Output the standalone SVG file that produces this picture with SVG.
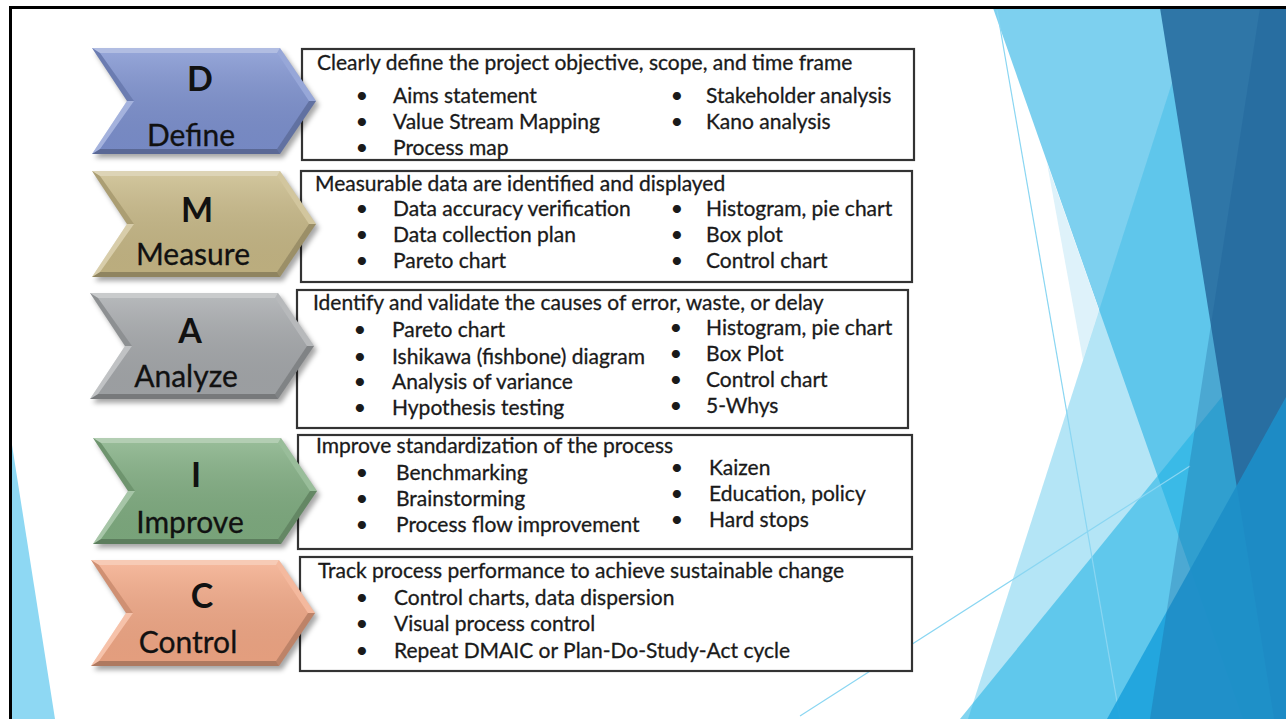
<svg xmlns="http://www.w3.org/2000/svg" xmlns:xlink="http://www.w3.org/1999/xlink" width="1286" height="719" viewBox="0 0 1286 719">
  <style>
    .box { fill: #ffffff; stroke: #333333; stroke-width: 2.2; }
    .t { font-family: Lato, "Open Sans", "Liberation Sans", sans-serif; font-size: 21px; fill: #1a1a1a; stroke: #1a1a1a; stroke-width: 0.3; }
    .b { font-family: Lato, "Open Sans", "Liberation Sans", sans-serif; font-size: 22px; fill: #1a1a1a; text-anchor: middle; }
    .letter { font-family: Lato, "Open Sans", "Liberation Sans", sans-serif; font-size: 34px; font-weight: 700; fill: #111111; text-anchor: middle; }
    .word { font-family: Lato, "Open Sans", "Liberation Sans", sans-serif; font-size: 30px; fill: #111111; stroke: #111111; stroke-width: 0.3; text-anchor: middle; }
    .thin { fill: none; stroke: #8ad6f2; stroke-width: 1.2; }
  </style>
  <defs>
    <filter id="soft" x="-10%" y="-10%" width="130%" height="140%">
      <feGaussianBlur stdDeviation="2.5"/>
    </filter>
    <linearGradient id="sheen" x1="0" y1="0" x2="0" y2="1">
      <stop offset="0" stop-color="#ffffff" stop-opacity="0.18"/>
      <stop offset="1" stop-color="#000000" stop-opacity="0.06"/>
    </linearGradient>
    <!-- bevelled chevron, fill comes from the <use> -->
    <g id="chev">
      <polygon points="3,4 191,4 227,57 191,110 3,110 38,57" fill="#000000" fill-opacity="0.35" filter="url(#soft)"/>
      <polygon points="0,0 188,0 224,53 188,106 0,106 35,53"/>
      <polygon points="8,5 185,5 217,53 185,101 8,101 42,53" fill="url(#sheen)"/>
      <polygon points="0,0 188,0 185,5 8,5" fill="#ffffff" fill-opacity="0.4"/>
      <polygon points="188,0 224,53 217,53 185,5" fill="#ffffff" fill-opacity="0.2"/>
      <polygon points="224,53 188,106 185,101 217,53" fill="#000000" fill-opacity="0.22"/>
      <polygon points="188,106 0,106 8,101 185,101" fill="#000000" fill-opacity="0.28"/>
      <polygon points="0,106 35,53 42,53 8,101" fill="#ffffff" fill-opacity="0.3"/>
      <polygon points="0,0 8,5 42,53 35,53" fill="#000000" fill-opacity="0.14"/>
    </g>
  </defs>

  <!-- slide background and facet decoration -->
  <rect x="0" y="0" width="1286" height="719" fill="#ffffff"/>
  <g id="facets">
    <polygon points="993,8 1286,8 1286,719 1243,719" fill="#7dd0ef"/>
    <polygon points="1047,163 1099,310 1083,360" fill="#def2fa"/>
    <polygon points="1196,8 1286,8 1286,719 968,719" fill="#29b4e6" fill-opacity="0.35"/>
    <polygon points="1286,318 1286,719 960,719" fill="#1cb0e4" fill-opacity="0.55"/>
    <line class="thin" x1="997" y1="10" x2="1120" y2="719"/>
    <line class="thin" x1="800" y1="716" x2="1190" y2="466"/>
    <polygon points="1160,8 1286,8 1286,719 1274,719" fill="#2f76a7"/>
    <polygon points="1286,397 1286,719 1107,719" fill="#1ea3dc" fill-opacity="0.92"/>
    <polygon points="1260,8 1286,8 1286,719 1150,719" fill="#1a5a94" fill-opacity="0.28"/>
    <polygon points="12,445 55,719 12,719" fill="#8ed8f3"/>
  </g>
  <!-- slide frame -->
  <line x1="10.5" y1="7.5" x2="1286" y2="7.5" stroke="#000000" stroke-width="3"/>
  <line x1="10.5" y1="6" x2="10.5" y2="719" stroke="#000000" stroke-width="3"/>

  <!-- D: Define -->
  <g id="define">
    <rect class="box" x="302" y="49" width="612" height="111"/>
    <use xlink:href="#chev" href="#chev" fill="#7d91cf" transform="translate(92,48)"/>
    <text class="letter" x="200" y="91">D</text>
    <text class="word" x="191" y="146">Define</text>
    <text class="t" x="317" y="70">Clearly define the project objective, scope, and time frame</text>
    <text class="b" x="362" y="103">•</text><text class="t" x="393" y="103">Aims statement</text>
    <text class="b" x="362" y="129">•</text><text class="t" x="393" y="129">Value Stream Mapping</text>
    <text class="b" x="362" y="155">•</text><text class="t" x="393" y="155">Process map</text>
    <text class="b" x="677" y="103">•</text><text class="t" x="706" y="103">Stakeholder analysis</text>
    <text class="b" x="677" y="129">•</text><text class="t" x="706" y="129">Kano analysis</text>
  </g>

  <!-- M: Measure -->
  <g id="measure">
    <rect class="box" x="301" y="171" width="611" height="111"/>
    <use xlink:href="#chev" href="#chev" fill="#c7b886" transform="translate(92,171)"/>
    <text class="letter" x="197" y="222">M</text>
    <text class="word" x="193" y="265">Measure</text>
    <text class="t" x="315" y="191">Measurable data are identified and displayed</text>
    <text class="b" x="362" y="216">•</text><text class="t" x="393" y="216">Data accuracy verification</text>
    <text class="b" x="362" y="242">•</text><text class="t" x="393" y="242">Data collection plan</text>
    <text class="b" x="362" y="268">•</text><text class="t" x="393" y="268">Pareto chart</text>
    <text class="b" x="677" y="216">•</text><text class="t" x="706" y="216">Histogram, pie chart</text>
    <text class="b" x="677" y="242">•</text><text class="t" x="706" y="242">Box plot</text>
    <text class="b" x="677" y="268">•</text><text class="t" x="706" y="268">Control chart</text>
  </g>

  <!-- A: Analyze -->
  <g id="analyze">
    <rect class="box" x="297" y="290" width="611" height="138"/>
    <use xlink:href="#chev" href="#chev" fill="#a5a8ab" transform="translate(90,293)"/>
    <text class="letter" x="190" y="343">A</text>
    <text class="word" x="186" y="387">Analyze</text>
    <text class="t" x="313" y="310">Identify and validate the causes of error, waste, or delay</text>
    <text class="b" x="360" y="337">•</text><text class="t" x="392" y="337">Pareto chart</text>
    <text class="b" x="360" y="364">•</text><text class="t" x="392" y="364">Ishikawa (fishbone) diagram</text>
    <text class="b" x="360" y="389">•</text><text class="t" x="392" y="389">Analysis of variance</text>
    <text class="b" x="360" y="415">•</text><text class="t" x="392" y="415">Hypothesis testing</text>
    <text class="b" x="676" y="335">•</text><text class="t" x="706" y="335">Histogram, pie chart</text>
    <text class="b" x="676" y="361">•</text><text class="t" x="706" y="361">Box Plot</text>
    <text class="b" x="676" y="387">•</text><text class="t" x="706" y="387">Control chart</text>
    <text class="b" x="676" y="413">•</text><text class="t" x="706" y="413">5-Whys</text>
  </g>

  <!-- I: Improve -->
  <g id="improve">
    <rect class="box" x="298" y="435" width="614" height="114"/>
    <use xlink:href="#chev" href="#chev" fill="#80ad81" transform="translate(93,438)"/>
    <text class="letter" x="196" y="487">I</text>
    <text class="word" x="190" y="533">Improve</text>
    <text class="t" x="316" y="453">Improve standardization of the process</text>
    <text class="b" x="362" y="480">•</text><text class="t" x="396" y="480">Benchmarking</text>
    <text class="b" x="362" y="506">•</text><text class="t" x="396" y="506">Brainstorming</text>
    <text class="b" x="362" y="532">•</text><text class="t" x="396" y="532">Process flow improvement</text>
    <text class="b" x="677" y="475">•</text><text class="t" x="709" y="475">Kaizen</text>
    <text class="b" x="677" y="501">•</text><text class="t" x="709" y="501">Education, policy</text>
    <text class="b" x="677" y="527">•</text><text class="t" x="709" y="527">Hard stops</text>
  </g>

  <!-- C: Control -->
  <g id="control">
    <rect class="box" x="300" y="557" width="612" height="114"/>
    <use xlink:href="#chev" href="#chev" fill="#f2a886" transform="translate(91,560)"/>
    <text class="letter" x="202" y="608">C</text>
    <text class="word" x="188" y="653">Control</text>
    <text class="t" x="318" y="578">Track process performance to achieve sustainable change</text>
    <text class="b" x="362" y="605">•</text><text class="t" x="394" y="605">Control charts, data dispersion</text>
    <text class="b" x="362" y="631">•</text><text class="t" x="394" y="631">Visual process control</text>
    <text class="b" x="362" y="658">•</text><text class="t" x="394" y="658">Repeat DMAIC or Plan-Do-Study-Act cycle</text>
  </g>
</svg>
